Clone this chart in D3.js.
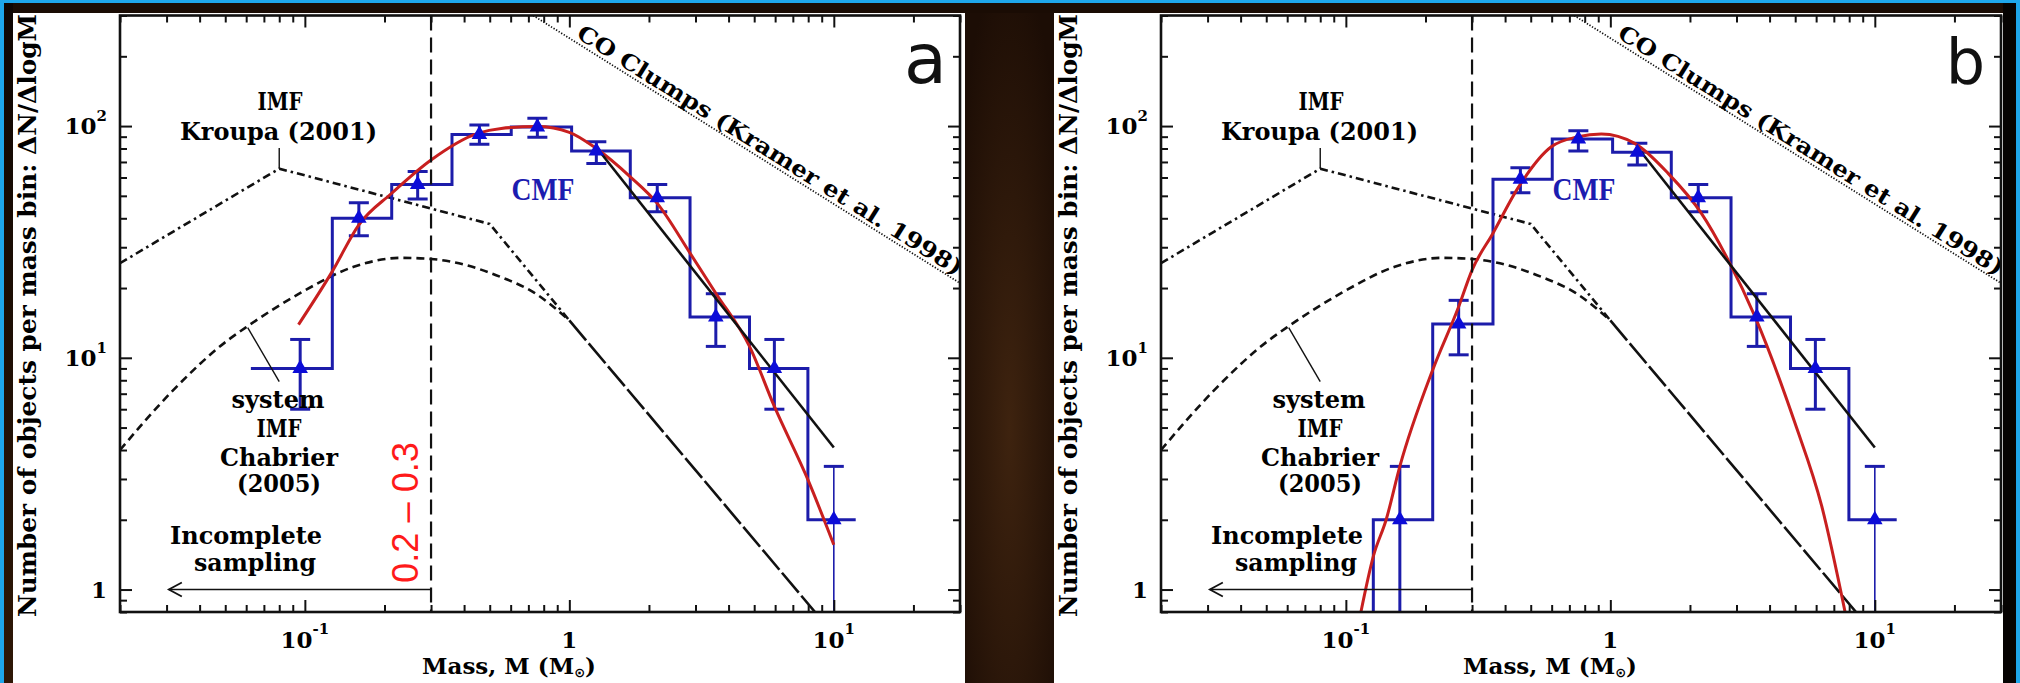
<!DOCTYPE html>
<html>
<head>
<meta charset="utf-8">
<script src="https://cdn.jsdelivr.net/npm/d3@7"></script>
<style>
  body { margin: 0; background: #1a0c04; }
</style>
</head>
<body>
<div id="chart"></div>
<script>
// ---- values ----
const massDomain = [0.02, 30]
const countDomain = [0.8, 300]

const massMajor = [0.1, 1, 10]
const massMajorLabel = [['10', '-1'], ['1', ''], ['10', '1']]
const countMajor = [1, 10, 100]
const countMajorLabel = [['1', ''], ['10', '1'], ['10', '2']]

// CMF histogram (same bins in both panels)
const binEdges = [0.0625, 0.127, 0.213, 0.36, 0.603, 1.02, 1.70, 2.86, 4.80, 7.98, 12.1]
const binCountsA = [9, 40, 56, 92, 99, 78, 49, 15, 9, 2]
const binCountsB = [0, 2, 14, 59, 88, 77, 49, 15, 9, 2]

// points with error bars
const pointMassA = [0.096, 0.16, 0.267, 0.457, 0.757, 1.265, 2.15, 3.58, 5.96, 10]
const pointCountA = [9, 40, 56, 92, 99, 78, 49, 15, 9, 2]
const errLowA = [6.0, 33.6, 48.4, 83.4, 89.4, 69, 42.7, 11.2, 6.0, 0.5]
const errHighA = [12, 46.7, 63.6, 101, 108, 85.6, 56, 18.9, 12, 3.4]

const pointMassB = [0.16, 0.267, 0.457, 0.757, 1.265, 2.15, 3.58, 5.96, 10]
const pointCountB = [2, 14, 59, 88, 77, 49, 15, 9, 2]
const errLowB = [0.5, 10.3, 51.6, 78, 67.9, 42.7, 11.2, 6.0, 0.5]
const errHighB = [3.4, 17.7, 66.1, 95.5, 84.2, 56, 18.9, 12, 3.4]

// red log-normal fits
const fitMassA = [0.0946, 0.127, 0.16, 0.213, 0.3, 0.45, 0.553, 0.757, 1.0, 1.265, 1.70, 2.15, 2.86, 3.58, 4.8, 5.96, 7.98, 10]
const fitCountA = [13.9, 23.6, 37.5, 51.3, 71.4, 93, 97.7, 99.5, 94, 80, 60.4, 46.4, 28.3, 19.0, 11.2, 6.17, 2.98, 1.56]
const fitMassB = [0.114, 0.127, 0.142, 0.16, 0.213, 0.267, 0.3, 0.36, 0.447, 0.598, 0.755, 0.925, 1.236, 1.654, 2.21, 2.79, 3.52, 4.99, 6.3, 7.72]
const fitCountB = [0.8, 1.39, 2.0, 3.4, 8.87, 16.6, 23.9, 34.5, 54, 81.4, 89.9, 92.4, 84.2, 62.5, 42, 26.4, 15.1, 5.23, 2.29, 0.8]

// black power-law fit of the high-mass end
const slopeMass = [1.265, 10]
const slopeCount = [81, 4.1]

// reference mass functions
const kroupaMass = [0.02, 0.08, 0.5, 1.0]
const kroupaCount = [25.6, 65.5, 37.8, 14.5]
const chabrierMass = [0.02, 0.0316, 0.0511, 0.0608, 0.0966, 0.153, 0.231, 0.3, 0.552, 0.736, 1.0]
const chabrierCount = [4.0, 7.2, 11.9, 13.7, 19.1, 24.7, 27.0, 26.7, 22.3, 19.1, 14.5]
const tailMass = [1.0, 8.49]
const tailCount = [14.5, 0.8]
const coMass = [0.73, 30]
const coCount = [300, 21]

const completeLimit = 0.3
const arrowMass = [0.0306, 0.3]

const SERIF = "'DejaVu Serif', 'Liberation Serif', serif"
const SANS = "'Liberation Sans', Arial, sans-serif"

const svg = d3.select('#chart').append('svg')
  .attr('width', 2020)
  .attr('height', 683)
  .style('display', 'block')
const defs = svg.append('defs')

// ---- dark background with light frame lines ----
const glow = defs.append('radialGradient').attr('id', 'glow')
  .attr('cx', '50%').attr('cy', '62%').attr('r', '70%')
glow.append('stop').attr('offset', '0%').attr('stop-color', '#3e230f')
glow.append('stop').attr('offset', '100%').attr('stop-color', '#1c0d05')
const side = defs.append('linearGradient').attr('id', 'side')
  .attr('x1', 0).attr('y1', 0).attr('x2', 0).attr('y2', 1)
side.append('stop').attr('offset', '0%').attr('stop-color', '#0e0603')
side.append('stop').attr('offset', '100%').attr('stop-color', '#2e1706')

svg.append('rect').attr('width', 2020).attr('height', 683).attr('fill', '#1a0c04')
svg.append('rect').attr('x', 0).attr('y', 0).attr('width', 13).attr('height', 683).attr('fill', 'url(#side)')
svg.append('rect').attr('x', 965).attr('y', 13).attr('width', 89).attr('height', 670).attr('fill', 'url(#glow)')
svg.append('rect').attr('x', 2003).attr('y', 3).attr('width', 14).attr('height', 680).attr('fill', '#060302')
svg.append('rect').attr('x', 0).attr('y', 0).attr('width', 2020).attr('height', 3).attr('fill', '#1ea6ea')
svg.append('rect').attr('x', 0).attr('y', 0).attr('width', 4).attr('height', 683).attr('fill', '#1ea6ea')
svg.append('rect').attr('x', 2016).attr('y', 0).attr('width', 4).attr('height', 683).attr('fill', '#1ea6ea')

// white panels
svg.append('rect').attr('x', 13).attr('y', 13).attr('width', 952).attr('height', 670).attr('fill', '#fff')
svg.append('rect').attr('x', 1054).attr('y', 13).attr('width', 949).attr('height', 670).attr('fill', '#fff')

const zip = (a, b) => a.map((v, i) => [v, b[i]])

function boldText(g, str, x, y, w, size) {
  return g.append('text')
    .attr('x', x).attr('y', y)
    .attr('text-anchor', 'middle')
    .attr('font-family', SERIF)
    .attr('font-weight', 'bold')
    .attr('font-size', size || 24)
    .attr('textLength', w)
    .attr('lengthAdjust', 'spacingAndGlyphs')
    .text(str)
}

function drawPanel(ox, d) {
  const left = 120 + ox, right = 960 + ox, top = 15.5, bottom = 612
  const x = d3.scaleLog().domain(massDomain).range([left, right])
  const y = d3.scaleLog().domain(countDomain).range([bottom, top])
  const yc = v => y(Math.max(v, 0.5))

  const g = svg.append('g')
  defs.append('clipPath').attr('id', 'clip' + d.tag)
    .append('rect').attr('x', left).attr('y', top)
    .attr('width', right - left).attr('height', bottom - top)
  const plot = g.append('g').attr('clip-path', `url(#clip${d.tag})`)

  const straight = d3.line().x(p => x(p[0])).y(p => yc(p[1]))
  const smooth = d3.line().x(p => x(p[0])).y(p => yc(p[1])).curve(d3.curveMonotoneX)

  // CO clumps (dotted)
  plot.append('path').attr('d', straight(zip(coMass, coCount)))
    .attr('fill', 'none').attr('stroke', '#111').attr('stroke-width', 1.7)
    .attr('stroke-dasharray', '1.3,1.7')
  // Kroupa IMF (dash-dot)
  plot.append('path').attr('d', straight(zip(kroupaMass, kroupaCount)))
    .attr('fill', 'none').attr('stroke', '#111').attr('stroke-width', 2.6)
    .attr('stroke-dasharray', '8,4,2.5,4')
  // Chabrier system IMF (dashed)
  plot.append('path').attr('d', smooth(zip(chabrierMass, chabrierCount)))
    .attr('fill', 'none').attr('stroke', '#111').attr('stroke-width', 2.6)
    .attr('stroke-dasharray', '8,5')
  // common high-mass tail
  plot.append('path').attr('d', straight(zip(tailMass, tailCount)))
    .attr('fill', 'none').attr('stroke', '#111').attr('stroke-width', 2.6)
    .attr('stroke-dasharray', '26,4')

  // completeness limit
  g.append('line')
    .attr('x1', x(completeLimit)).attr('x2', x(completeLimit))
    .attr('y1', top).attr('y2', bottom)
    .attr('stroke', '#111').attr('stroke-width', 2.2)
    .attr('stroke-dasharray', '15,7')

  // incomplete sampling arrow
  const ax0 = x(arrowMass[0]), ax1 = x(arrowMass[1]), ay = y(1)
  g.append('line').attr('x1', ax0).attr('x2', ax1).attr('y1', ay).attr('y2', ay)
    .attr('stroke', '#111').attr('stroke-width', 1.4)
  g.append('path').attr('d', `M${ax0 + 13},${ay - 7}L${ax0},${ay}L${ax0 + 13},${ay + 7}`)
    .attr('fill', 'none').attr('stroke', '#111').attr('stroke-width', 1.8)

  // CMF histogram
  const steps = []
  d.counts.forEach((c, i) => { steps.push([binEdges[i], c], [binEdges[i + 1], c]) })
  plot.append('path').attr('d', straight(steps))
    .attr('fill', 'none').attr('stroke', '#1c1caa').attr('stroke-width', 3)

  // error bars
  const eb = plot.append('g').attr('stroke', '#1c1caa')
  d.mass.forEach((m, i) => {
    const cx = x(m)
    eb.append('line').attr('x1', cx).attr('x2', cx)
      .attr('y1', yc(d.lo[i])).attr('y2', yc(d.hi[i]))
      .attr('stroke-width', m >= 10 ? 1.6 : 3)
    ;[d.lo[i], d.hi[i]].forEach(v => {
      eb.append('line').attr('x1', cx - 10).attr('x2', cx + 10)
        .attr('y1', yc(v)).attr('y2', yc(v)).attr('stroke-width', 3)
    })
  })

  // red log-normal fit
  plot.append('path').attr('d', smooth(zip(d.fitMass, d.fitCount)))
    .attr('fill', 'none').attr('stroke', '#c81f1f').attr('stroke-width', 3)
  // black power-law fit
  plot.append('path').attr('d', straight(zip(slopeMass, slopeCount)))
    .attr('fill', 'none').attr('stroke', '#111').attr('stroke-width', 2.6)

  // triangles
  plot.selectAll('.pt').data(zip(d.mass, d.count)).enter().append('path')
    .attr('class', 'pt')
    .attr('transform', p => `translate(${x(p[0])},${y(p[1])})`)
    .attr('d', d3.symbol().type(d3.symbolTriangle).size(105))
    .attr('fill', '#0c0cd8')

  // leaders for the IMF labels
  g.append('line').attr('x1', x(0.08)).attr('x2', x(0.08)).attr('y1', y(80.4)).attr('y2', y(65.5))
    .attr('stroke', '#111').attr('stroke-width', 1.4)
  g.append('line').attr('x1', x(0.0608)).attr('x2', x(0.08)).attr('y1', y(13.5)).attr('y2', y(7.9))
    .attr('stroke', '#111').attr('stroke-width', 1.4)

  // text annotations
  boldText(g, 'IMF', 280 + ox, 110, 45)
  boldText(g, 'Kroupa (2001)', 278.5 + ox, 140, 197)
  boldText(g, 'system', 278 + ox, 408, 93)
  boldText(g, 'IMF', 279 + ox, 437, 45)
  boldText(g, 'Chabrier', 279 + ox, 466, 118)
  boldText(g, '(2005)', 279 + ox, 492, 84)
  boldText(g, 'Incomplete', 246 + ox, 544, 152)
  boldText(g, 'sampling', 255 + ox, 571, 122)
  g.append('text')
    .attr('x', 543 + ox).attr('y', 200)
    .attr('text-anchor', 'middle')
    .attr('font-family', "'Liberation Serif', 'DejaVu Serif', serif")
    .attr('font-weight', 'bold').attr('font-size', 32)
    .attr('textLength', 63).attr('lengthAdjust', 'spacingAndGlyphs')
    .attr('fill', '#1c1cb0')
    .text('CMF')

  // CO clumps label along the dotted line
  const c0 = [x(coMass[0]), y(coCount[0])], c1 = [x(coMass[1]), y(coCount[1])]
  const ang = Math.atan2(c1[1] - c0[1], c1[0] - c0[0])
  const s = 47, off = 4
  const tx = c0[0] + s * Math.cos(ang) + off * Math.sin(ang)
  const ty = c0[1] + s * Math.sin(ang) - off * Math.cos(ang)
  g.append('text')
    .attr('transform', `translate(${tx},${ty}) rotate(${ang * 180 / Math.PI})`)
    .attr('font-family', SERIF).attr('font-weight', 'bold').attr('font-size', 22)
    .attr('textLength', 450).attr('lengthAdjust', 'spacingAndGlyphs')
    .text('CO Clumps (Kramer et al. 1998)')

  if (d.range) {
    g.append('text')
      .attr('transform', `translate(${418 + ox},583) rotate(-90)`)
      .attr('font-family', SANS).attr('font-size', 37)
      .attr('textLength', 141).attr('lengthAdjust', 'spacingAndGlyphs')
      .attr('fill', '#ff1a1a')
      .text('0.2 \u2013 0.3')
  }

  // panel letter
  g.append('text')
    .attr('x', d.letterX + ox).attr('y', 83)
    .attr('text-anchor', 'end')
    .attr('font-family', "'DejaVu Sans', sans-serif")
    .attr('font-size', d.letterSize)
    .attr('fill', '#111')
    .text(d.tag)

  // ---- frame and ticks ----
  const minorX = x.ticks().filter(v => !massMajor.some(m => Math.abs(m - v) / m < 1e-6))
  const minorY = y.ticks().filter(v => !countMajor.some(m => Math.abs(m - v) / m < 1e-6))
  const tickStyle = sel => {
    sel.select('.domain').remove()
    sel.selectAll('line').attr('stroke', '#111').attr('stroke-width', 2)
  }
  const axes = [
    [d3.axisBottom(x), `translate(0,${bottom})`, minorX, massMajor],
    [d3.axisTop(x), `translate(0,${top})`, minorX, massMajor],
    [d3.axisLeft(y), `translate(${left},0)`, minorY, countMajor],
    [d3.axisRight(y), `translate(${right},0)`, minorY, countMajor]
  ]
  axes.forEach(([ax, tr, minor, major]) => {
    g.append('g').attr('transform', tr)
      .call(ax.tickValues(minor).tickSize(-7).tickFormat(''))
      .call(tickStyle)
    g.append('g').attr('transform', tr)
      .call(ax.tickValues(major).tickSize(-12).tickFormat(''))
      .call(tickStyle)
  })
  g.append('rect')
    .attr('x', left).attr('y', top)
    .attr('width', right - left).attr('height', bottom - top)
    .attr('fill', 'none').attr('stroke', '#111').attr('stroke-width', 2.6)

  // tick labels
  massMajor.forEach((v, i) => {
    const t = g.append('text')
      .attr('x', x(v)).attr('y', 648)
      .attr('text-anchor', 'middle')
      .attr('font-family', SERIF).attr('font-weight', 'bold').attr('font-size', 23)
    t.append('tspan').text(massMajorLabel[i][0])
    if (massMajorLabel[i][1]) t.append('tspan').attr('dy', -14).attr('font-size', 15).text(massMajorLabel[i][1])
  })
  countMajor.forEach((v, i) => {
    const t = g.append('text')
      .attr('x', left - 13).attr('y', y(v) + 8)
      .attr('text-anchor', 'end')
      .attr('font-family', SERIF).attr('font-weight', 'bold').attr('font-size', 23)
    t.append('tspan').text(countMajorLabel[i][0])
    if (countMajorLabel[i][1]) t.append('tspan').attr('dy', -13).attr('font-size', 15).text(countMajorLabel[i][1])
  })

  // axis titles
  const xt = g.append('text')
    .attr('x', 509 + ox).attr('y', 674)
    .attr('text-anchor', 'middle')
    .attr('font-family', SERIF).attr('font-weight', 'bold').attr('font-size', 23)
  xt.append('tspan').text('Mass, M (M')
  xt.append('tspan').attr('dy', 3).attr('font-size', 13).attr('font-family', "'DejaVu Sans', sans-serif").text('\u2299')
  xt.append('tspan').attr('dy', -3).text(')')

  g.append('text')
    .attr('transform', `translate(${left - 84},617) rotate(-90)`)
    .attr('font-family', SERIF).attr('font-weight', 'bold').attr('font-size', 25)
    .attr('textLength', 603).attr('lengthAdjust', 'spacingAndGlyphs')
    .text('Number of objects per mass bin: \u0394N/\u0394logM')
}

drawPanel(0, {
  tag: 'a', range: true, letterX: 947, letterSize: 70,
  counts: binCountsA, mass: pointMassA, count: pointCountA, lo: errLowA, hi: errHighA,
  fitMass: fitMassA, fitCount: fitCountA
})
drawPanel(1041, {
  tag: 'b', range: false, letterX: 944, letterSize: 62,
  counts: binCountsB, mass: pointMassB, count: pointCountB, lo: errLowB, hi: errHighB,
  fitMass: fitMassB, fitCount: fitCountB
})
</script>
</body>
</html>
